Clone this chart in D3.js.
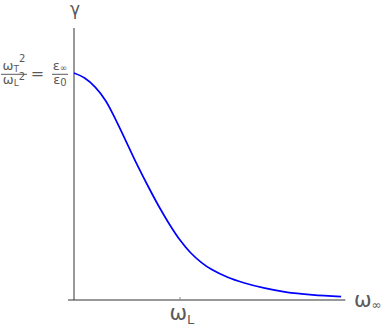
<!DOCTYPE html>
<html><head><meta charset="utf-8">
<script src="https://cdn.jsdelivr.net/npm/d3@7"></script>
<style>html,body{margin:0;padding:0;background:#fff;}svg{display:block;}</style>
</head><body>
<svg id="c" width="382" height="327"></svg>
<script>
// ω/ω_L values and γ (normalised so γ(0) = ω_T²/ω_L² = ε∞/ε0)
const omega = [0, 0.1, 0.2, 0.3, 0.4, 0.5, 0.6, 0.7, 0.8, 0.9, 1.0, 1.1, 1.2, 1.3, 1.45, 1.6, 1.8, 2.0, 2.25, 2.52];
const gamma = [1.0, 0.978, 0.938, 0.877, 0.788, 0.690, 0.592, 0.500, 0.413, 0.334, 0.264, 0.208, 0.166, 0.134, 0.100, 0.076, 0.052, 0.035, 0.023, 0.015];
const xTicks = [1];
const xDomain = [-0.057, 2.56];
const yDomain = [0, 1.198];

const svg = d3.select("#c");
const x = d3.scaleLinear().domain([0, 1]).range([74, 180]);
const y = d3.scaleLinear().domain([0, 1]).range([300, 73]);
const txt = "#5a5a5a";
const font = "DejaVu Sans";

// y axis
svg.append("line").attr("x1", x(0)).attr("x2", x(0)).attr("y1", y(yDomain[1])).attr("y2", y(0))
  .attr("stroke", "#333").attr("stroke-width", 1);
// x axis
svg.append("line").attr("x1", x(xDomain[0])).attr("x2", x(xDomain[1])).attr("y1", y(0)).attr("y2", y(0))
  .attr("stroke", "#333").attr("stroke-width", 1);
// x ticks
svg.selectAll(".xt").data(xTicks).enter().append("line")
  .attr("x1", d => x(d)).attr("x2", d => x(d)).attr("y1", y(0)).attr("y2", y(0) - 3)
  .attr("stroke", "#888").attr("stroke-width", 1);

// curve
const line = d3.line().x((d, i) => x(omega[i])).y(d => y(d)).curve(d3.curveCatmullRom.alpha(0.5));
svg.append("path").datum(gamma).attr("d", line).attr("fill", "none")
  .attr("stroke", "#0000ff").attr("stroke-width", 1.7);

// tick label ω_L
const tl = svg.append("text").attr("x", x(1) - 10.5).attr("y", 320).attr("fill", txt)
  .attr("font-family", font).attr("font-size", 21);
tl.append("tspan").text("ω");
tl.append("tspan").attr("font-size", 13).attr("dy", 4).text("L");

// axis label ω∞
const al = svg.append("text").attr("x", 354).attr("y", 307).attr("fill", txt)
  .attr("font-family", font).attr("font-size", 21);
al.append("tspan").text("ω");
al.append("tspan").attr("font-size", 12).attr("dy", 2).text("∞");

// γ label
svg.append("text").attr("x", x(0) + 1).attr("y", 15).attr("text-anchor", "middle").attr("fill", txt)
  .attr("font-family", font).attr("font-size", 17).text("γ");

// fraction label
const fy = 74.3;
const g = svg.append("g").attr("fill", txt).attr("font-family", font).attr("font-size", 13);
function frac(cx, w, num, den) {
  g.append("line").attr("x1", cx - w / 2).attr("x2", cx + w / 2).attr("y1", fy).attr("y2", fy)
    .attr("stroke", txt).attr("stroke-width", 1);
  const n = g.append("text").attr("x", cx).attr("y", fy - 4).attr("text-anchor", "middle");
  num(n);
  const d = g.append("text").attr("x", cx).attr("y", fy + 10).attr("text-anchor", "middle");
  den(d);
}
frac(14, 26, t => { t.append("tspan").text("ω"); t.append("tspan").attr("font-size", 9).attr("dy", 2).text("T");
  t.append("tspan").attr("font-size", 10).attr("dy", -10).text("2"); },
  t => { t.append("tspan").text("ω"); t.append("tspan").attr("font-size", 9).attr("dy", 2).text("L");
  t.append("tspan").attr("font-size", 10).attr("dy", -6).text("2"); });
g.append("text").attr("x", 37.5).attr("y", fy + 5).attr("text-anchor", "middle").attr("font-size", 16).text("=");
frac(60, 16, t => { t.append("tspan").text("ε"); t.append("tspan").attr("font-size", 9).attr("dy", 1).text("∞"); },
  t => { t.append("tspan").text("ε"); t.append("tspan").attr("font-size", 10).attr("dy", 2).text("0"); });
</script>
</body></html>
